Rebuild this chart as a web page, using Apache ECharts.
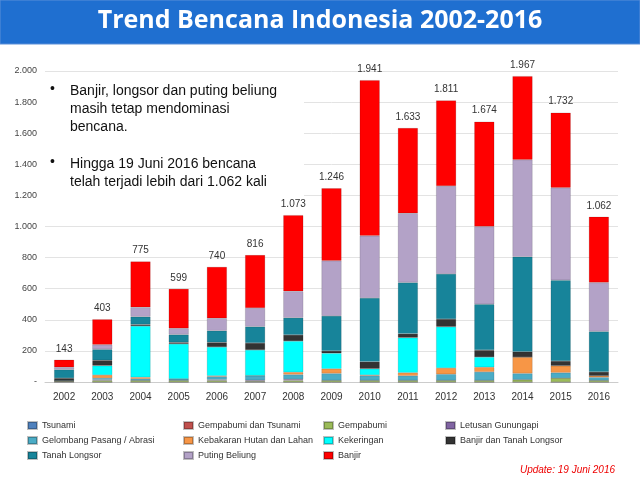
<!DOCTYPE html>
<html><head><meta charset="utf-8">
<script src="https://cdn.jsdelivr.net/npm/echarts@6/dist/echarts.min.js"></script>
<style>html,body{margin:0;padding:0;background:#fff}#c{width:640px;height:480px}</style>
</head><body><div id="c"></div>
<script>
const years = ['2002','2003','2004','2005','2006','2007','2008','2009','2010','2011','2012','2013','2014','2015','2016'];
const totals = [143,403,775,599,740,816,1073,1246,1941,1633,1811,1674,1967,1732,1062];
const seriesNames = ['Tsunami','Gempabumi dan Tsunami','Gempabumi','Letusan Gunungapi','Gelombang Pasang / Abrasi','Kebakaran Hutan dan Lahan','Kekeringan','Banjir dan Tanah Longsor','Tanah Longsor','Puting Beliung','Banjir'];
const tsunami   = [0,0,0,0,0,0,0,0,0,0,0,0,0,0,0];
const gempaTsu  = [0,0,0,0,0,0,0,0,0,0,0,0,0,0,0];
const gempa     = [5,10,10,10,10,5,10,10,10,10,10,10,15,25,10];
const letusan   = [0,5,0,0,5,6,8,0,0,0,0,0,0,0,0];
const gelombang = [5,10,10,10,20,30,30,45,30,30,40,55,40,35,20];
const kebakaran = [0,20,10,0,5,0,15,30,5,20,40,30,105,45,10];
const kekeringan= [0,60,330,225,185,165,200,100,40,225,265,65,0,0,0];
const banjirTL  = [15,35,10,10,30,45,40,15,45,25,50,45,35,30,25];
const tanahL    = [55,70,50,50,75,105,110,225,410,330,290,295,610,520,260];
const puting    = [15,30,60,40,80,120,170,355,400,445,565,500,625,595,315];
const banjir    = [48,163,295,254,330,340,490,466,1001,548,551,674,537,482,422];

const cols = ['#4f81bd','#c0504d','#9bbb59','#8064a2','#4bacc6','#f79646','#00ffff','#333333','#17849a','#b3a2c7','#ff0000'];
const data = [tsunami,gempaTsu,gempa,letusan,gelombang,kebakaran,kekeringan,banjirTL,tanahL,puting,banjir];

const series = data.map((d,i)=>({
  name: seriesNames[i], type:'bar', stack:'t', barWidth:20, data:d,
  itemStyle:{color:cols[i], borderColor:'rgba(0,0,0,0.25)', borderWidth:0.5},
  label: i===10 ? {show:true, position:'top', color:'#333', fontSize:10, distance:6,
    formatter:p=>totals[p.dataIndex].toLocaleString('de-DE')} : undefined
}));

const legCols = [[0,4,8],[1,5,9],[2,6,10],[3,7]];
const legLeft = [22,178,318,440];
const legends = legCols.map((idx,k)=>({
  left:legLeft[k], top:416, orient:'vertical', itemGap:6, itemWidth:9, itemHeight:7,
  icon:'rect', textStyle:{fontSize:9, color:'#333', fontFamily:'Liberation Sans'},
  data: idx.map(i=>seriesNames[i])
}));

const txt = '14px "Liberation Sans"';
const chart = echarts.init(document.getElementById('c'));
chart.setOption({
  animation:false,
  textStyle:{fontFamily:'Liberation Sans'},
  grid:{left:45,right:22,top:71,bottom:98},
  xAxis:{type:'category', data:years, axisTick:{show:false}, axisLine:{lineStyle:{color:'#ccc'}},
    axisLabel:{color:'#333', fontSize:10, margin:10}},
  yAxis:{type:'value', min:0, max:2000, interval:200,
    axisLabel:{color:'#444', fontSize:9, formatter:v=>v===0?'-':v.toLocaleString('de-DE')},
    splitLine:{lineStyle:{color:'#e3e3e3'}}},
  legend: legends,
  series: series,
  graphic:[
    {type:'rect', shape:{x:0,y:0,width:640,height:44}, style:{fill:'#1f6fd0', stroke:'#5a8fd8', lineWidth:1}},
    {type:'text', left:'center', top:8, style:{text:'Trend Bencana Indonesia 2002-2016', fill:'#fff', font:'bold 25px "Open Sans"'}},
    {type:'rect', shape:{x:44,y:76,width:260,height:122}, style:{fill:'#fff'}, z:10},
    {type:'text', left:50, top:82, z:11, style:{text:'•', fill:'#111', font:txt}},
    {type:'text', left:70, top:82, z:11, style:{text:'Banjir, longsor dan puting beliung\nmasih tetap mendominasi\nbencana.', fill:'#111', font:txt, lineHeight:18}},
    {type:'text', left:50, top:155, z:11, style:{text:'•', fill:'#111', font:txt}},
    {type:'text', left:70, top:155, z:11, style:{text:'Hingga 19 Juni 2016 bencana\ntelah terjadi lebih dari 1.062 kali', fill:'#111', font:txt, lineHeight:18}},
    {type:'text', right:25, top:465, style:{text:'Update: 19 Juni 2016', fill:'#e00', font:'italic 10px "Liberation Sans"'}}
  ]
});
</script></body></html>
